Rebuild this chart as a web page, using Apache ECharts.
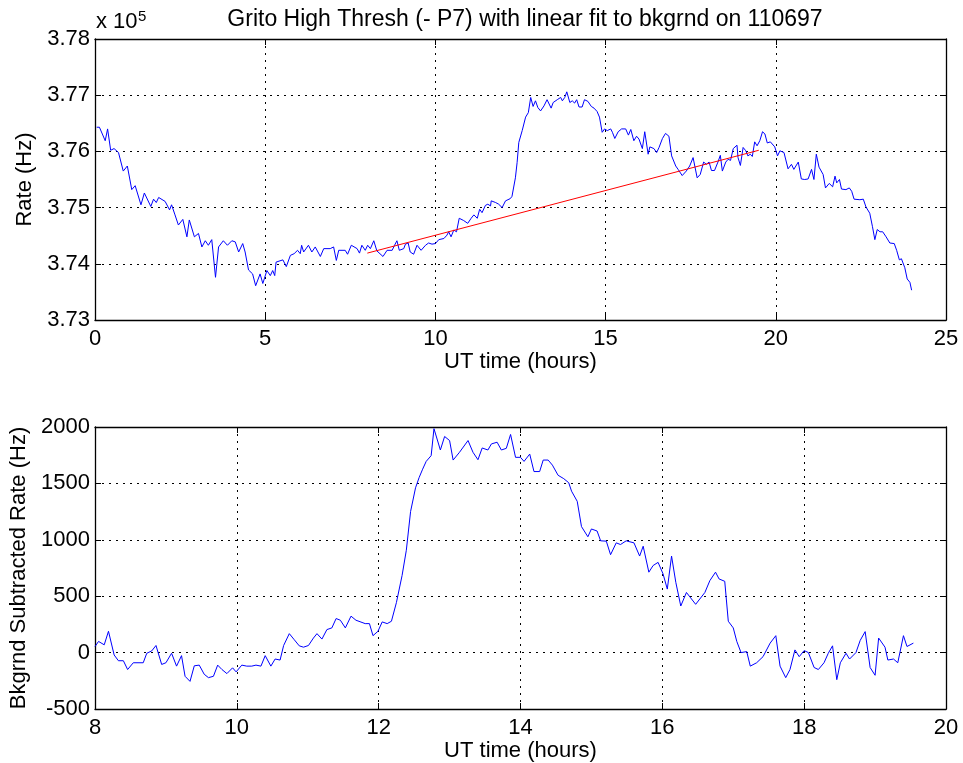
<!DOCTYPE html>
<html>
<head>
<meta charset="utf-8">
<script src="https://cdn.jsdelivr.net/npm/echarts@6/dist/echarts.min.js"></script>
<style>html,body{margin:0;padding:0;background:#fff;}#c{width:963px;height:763px;}</style>
</head>
<body>
<div id="c"></div>
<script>
// ---- Top panel: raw rate (Hz) vs UT hours ----
var topHours = [0.05,0.13,0.3,0.37,0.46,0.56,0.69,0.83,0.95,1.08,1.18,1.35,1.45,1.64,1.72,1.8,1.87,2.06,2.19,2.25,2.35,2.45,2.58,2.7,2.77,2.92,3.04,3.14,3.24,3.33,3.43,3.54,3.63,3.77,3.89,4.02,4.12,4.22,4.26,4.34,4.41,4.51,4.63,4.72,4.85,4.93,5.05,5.15,5.22,5.28,5.32,5.52,5.62,5.74,5.85,5.95,6.03,6.07,6.13,6.27,6.37,6.47,6.62,6.72,6.91,7.01,7.09,7.16,7.35,7.42,7.53,7.7,7.77,7.84,7.94,8.01,8.09,8.19,8.28,8.46,8.58,8.73,8.8,8.87,8.94,9.07,9.12,9.2,9.26,9.36,9.46,9.58,9.71,9.8,9.9,10.0,10.1,10.25,10.34,10.39,10.46,10.54,10.62,10.7,10.83,10.95,11.05,11.13,11.23,11.3,11.37,11.47,11.54,11.62,11.64,11.77,11.86,11.96,12.06,12.2,12.25,12.35,12.4,12.45,12.55,12.65,12.73,12.8,12.87,12.94,13.01,13.09,13.19,13.28,13.33,13.4,13.46,13.58,13.68,13.73,13.8,13.86,13.95,14.02,14.09,14.15,14.22,14.31,14.38,14.48,14.58,14.66,14.75,14.82,14.9,14.97,15.05,15.15,15.2,15.27,15.37,15.47,15.59,15.67,15.74,15.83,15.91,15.98,16.08,16.15,16.25,16.3,16.42,16.5,16.57,16.67,16.76,16.86,16.94,17.06,17.13,17.25,17.37,17.47,17.57,17.69,17.78,17.88,17.96,18.04,18.11,18.2,18.3,18.37,18.43,18.53,18.6,18.67,18.75,18.86,18.89,18.96,19.04,19.12,19.18,19.25,19.31,19.38,19.45,19.53,19.61,19.68,19.75,19.84,19.97,20.05,20.12,20.24,20.36,20.46,20.53,20.66,20.75,20.85,20.95,21.05,21.12,21.19,21.27,21.39,21.46,21.57,21.67,21.74,21.79,21.87,21.93,22.06,22.16,22.23,22.3,22.47,22.57,22.65,22.76,22.84,22.91,22.98,23.06,23.14,23.24,23.35,23.48,23.55,23.63,23.69,23.79,23.86,23.94,23.99];
var topRate = [376430,376430,376190,376400,376020,376050,375980,375650,375740,375320,375390,375050,375260,375020,375150,375090,375180,375110,374960,375050,374870,374690,374790,374480,374780,374480,374540,374300,374410,374330,374430,373760,374300,374410,374330,374410,374390,374210,374180,374360,374210,373890,373820,373610,373820,373650,373880,373790,373880,373790,374030,374070,373950,374150,374180,374240,374180,374330,374210,374330,374210,374300,374130,374270,374270,374300,374060,374240,374240,374170,374330,374270,374190,374330,374240,374330,374270,374410,374230,374130,374240,374240,374330,374410,374240,374270,374350,374370,374210,374170,374330,374240,374330,374370,374350,374360,374430,374450,374510,374570,374480,374600,374570,374810,374770,374720,374810,374870,374810,374970,374910,375040,375060,375030,375120,375090,375060,375000,375120,375160,375200,375530,375800,376160,376370,376610,376690,376960,376800,376900,376780,376720,376810,376920,376890,376770,376870,376920,376960,376900,376960,377060,376870,376900,376860,376920,376790,376790,376920,376890,376800,376770,376710,376610,376340,376400,376370,376400,376340,376230,376350,376400,376400,376290,376390,376190,376270,376220,376050,376350,375950,376080,376050,375980,376070,376230,376320,376270,375920,375740,375680,375570,375650,375740,375890,375530,375590,375810,375770,375810,375660,375660,375810,375930,375650,375810,375860,375840,376050,376110,375890,375750,376070,376010,375920,375950,375910,376170,376100,376190,376350,376310,376150,376170,376080,375920,376010,375980,375690,375770,375680,375810,375510,375500,375510,375680,375500,375950,375720,375590,375350,375430,375370,375560,375440,375500,375330,375320,375350,375290,375150,375140,375150,375010,374900,374660,374430,374610,374570,374570,374480,374370,374360,374240,374070,374090,373930,373730,373670,373530];
// linear background fit endpoints (Hz)
var fitHours = [8.0, 19.5];
var fitRate = [374190, 376020];
var topXTicks = [0, 5, 10, 15, 20, 25];
var topYTicks = [373000, 374000, 375000, 376000, 377000, 378000];

// ---- Bottom panel: background-subtracted rate (Hz) ----
var botHours = [8.0,8.05,8.13,8.19,8.27,8.33,8.4,8.46,8.54,8.68,8.73,8.8,8.86,8.94,9.0,9.08,9.15,9.22,9.27,9.34,9.4,9.47,9.54,9.6,9.67,9.73,9.79,9.86,9.94,9.99,10.07,10.14,10.21,10.27,10.34,10.4,10.48,10.54,10.61,10.66,10.74,10.81,10.88,10.94,11.01,11.08,11.13,11.2,11.27,11.34,11.4,11.46,11.53,11.61,11.68,11.81,11.87,11.92,11.99,12.05,12.12,12.18,12.25,12.33,12.39,12.45,12.52,12.57,12.62,12.67,12.74,12.78,12.87,12.93,13.0,13.05,13.14,13.26,13.33,13.4,13.46,13.54,13.59,13.67,13.73,13.8,13.86,13.93,14.0,14.05,14.13,14.19,14.27,14.32,14.39,14.45,14.53,14.61,14.68,14.72,14.8,14.86,14.95,15.0,15.08,15.13,15.21,15.27,15.35,15.41,15.49,15.6,15.68,15.73,15.81,15.87,15.94,16.01,16.07,16.13,16.19,16.26,16.34,16.47,16.6,16.67,16.75,16.8,16.88,16.93,17.0,17.05,17.11,17.19,17.24,17.33,17.42,17.52,17.6,17.66,17.74,17.8,17.87,17.93,18.0,18.06,18.14,18.2,18.28,18.34,18.4,18.46,18.51,18.59,18.64,18.73,18.79,18.86,18.93,19.0,19.05,19.14,19.18,19.26,19.32,19.4,19.45,19.54];
var botRate = [54,99,69,189,-21,-72,-72,-150,-90,-90,-6,15,63,-105,-90,-6,-120,-27,-210,-255,-117,-111,-192,-222,-210,-111,-150,-186,-135,-171,-111,-120,-120,-111,-120,-27,-120,-57,-66,63,168,114,60,48,63,129,168,120,204,219,302,287,219,323,287,257,257,150,189,272,257,278,443,683,907,1251,1461,1551,1626,1695,1746,1985,1796,1916,1880,1707,1776,1880,1776,1710,1814,1796,1850,1865,1796,1811,1934,1731,1731,1695,1760,1605,1605,1707,1707,1662,1572,1542,1506,1431,1341,1117,1027,1096,1078,991,988,868,973,958,991,973,856,943,713,772,800,698,563,856,623,413,533,428,533,638,713,653,632,278,219,99,0,9,-120,-90,-36,84,150,-120,-222,-150,24,-36,18,0,-132,-150,-90,-6,60,-240,-90,-6,-57,0,108,186,-132,-201,129,48,-66,-57,-90,150,54,84];
var botXTicks = [8, 10, 12, 14, 16, 18, 20];
var botYTicks = [-500, 0, 500, 1000, 1500, 2000];

var FONT = '"Liberation Sans", Arial, Helvetica, sans-serif';
function pairs(xs, ys) { return xs.map(function (x, i) { return [x, ys[i]]; }); }

var chart = echarts.init(document.getElementById('c'), null, { renderer: 'canvas' });

var gridLine = { show: true, lineStyle: { color: '#000', type: [2, 5], width: 1 } };
var axLine = { show: true, onZero: false, lineStyle: { color: '#000', width: 1.3 } };
var tick = { show: true, inside: true, length: 6, lineStyle: { color: '#000' } };
var lbl = { color: '#000', fontSize: 22, fontFamily: FONT };
var nameStyle = { color: '#000', fontSize: 22, fontFamily: FONT };

function xAx(gi, ticks, pos, main) {
  var o = {
    type: 'value', gridIndex: gi, position: pos,
    min: ticks[0], max: ticks[ticks.length - 1], interval: ticks[1] - ticks[0],
    axisLine: axLine, axisTick: tick,
    splitLine: main ? gridLine : { show: false },
    axisLabel: main ? Object.assign({ margin: 8 }, lbl) : { show: false }
  };
  if (main) {
    o.name = 'UT time (hours)';
    o.nameLocation = 'middle';
    o.nameGap = 30;
    o.nameTextStyle = nameStyle;
  }
  return o;
}
function yAx(gi, ticks, pos, main, name, gap, fmt) {
  var o = {
    type: 'value', gridIndex: gi, position: pos,
    min: ticks[0], max: ticks[ticks.length - 1], interval: ticks[1] - ticks[0],
    axisLine: axLine, axisTick: tick,
    splitLine: main ? gridLine : { show: false },
    axisLabel: main ? Object.assign({ margin: 5, formatter: fmt }, lbl) : { show: false }
  };
  if (main) {
    o.name = name;
    o.nameLocation = 'middle';
    o.nameGap = gap;
    o.nameTextStyle = nameStyle;
  }
  return o;
}

var option = {
  backgroundColor: '#fff',
  animation: false,
  title: {
    text: 'Grito High Thresh (- P7) with linear fit to bkgrnd on 110697',
    left: 520, top: 3, textAlign: 'center',
    textStyle: { color: '#000', fontSize: 23, fontWeight: 'normal', fontFamily: FONT }
  },
  graphic: [
    { type: 'text', x: 96, y: 22, style: { text: 'x 10', fill: '#000', font: '22px ' + FONT, verticalAlign: 'middle', align: 'left' } },
    { type: 'text', x: 138, y: 17, style: { text: '5', fill: '#000', font: '15px ' + FONT, verticalAlign: 'middle', align: 'left' } }
  ],
  grid: [
    { left: 95, right: 17, top: 39, height: 281, containLabel: false },
    { left: 95, right: 17, top: 427, height: 282, containLabel: false }
  ],
  xAxis: [
    xAx(0, topXTicks, 'bottom', true),
    xAx(0, topXTicks, 'top', false),
    xAx(1, botXTicks, 'bottom', true),
    xAx(1, botXTicks, 'top', false)
  ],
  yAxis: [
    yAx(0, topYTicks, 'left', true, 'Rate (Hz)', 57, function (v) { return (v / 1e5).toFixed(2); }),
    yAx(0, topYTicks, 'right', false),
    yAx(1, botYTicks, 'left', true, 'Bkgrnd Subtracted Rate (Hz)', 62, function (v) { return String(v); }),
    yAx(1, botYTicks, 'right', false)
  ],
  series: [
    { type: 'line', xAxisIndex: 0, yAxisIndex: 0, data: pairs(topHours, topRate), showSymbol: false, symbol: 'none',
      lineStyle: { color: '#0000ff', width: 1 }, z: 3 },
    { type: 'line', xAxisIndex: 0, yAxisIndex: 0, data: pairs(fitHours, fitRate), showSymbol: false, symbol: 'none',
      lineStyle: { color: '#ff0000', width: 1 }, z: 4 },
    { type: 'line', xAxisIndex: 2, yAxisIndex: 2, data: pairs(botHours, botRate), showSymbol: false, symbol: 'none',
      lineStyle: { color: '#0000ff', width: 1 }, z: 3 }
  ]
};
chart.setOption(option);
</script>
</body>
</html>
